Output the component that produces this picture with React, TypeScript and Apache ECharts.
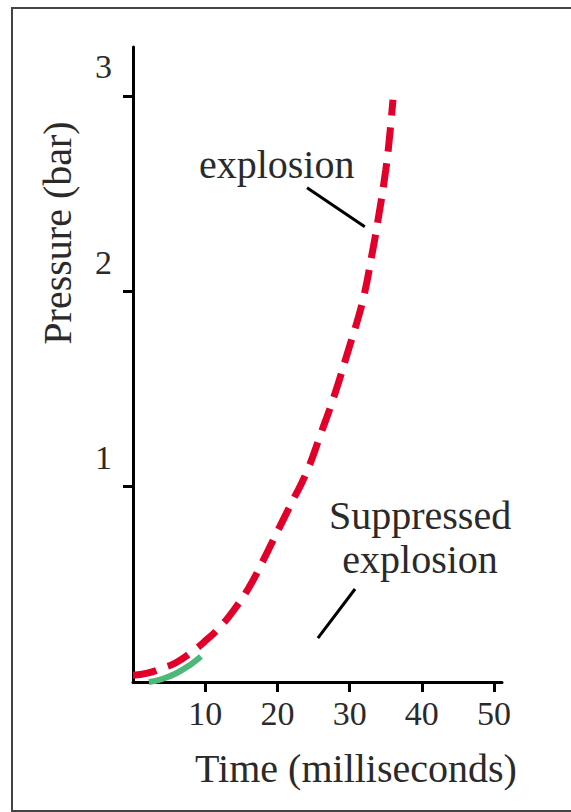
import React, { useEffect, useRef } from "react";
import * as echarts from "echarts";

// Explosion (red dashed) curve: time (ms) vs pressure (bar)
const explosionTime = [0, 2, 4, 6, 8, 10, 12, 14, 16, 18, 20, 22, 24, 26, 28, 30, 31, 32, 33, 34, 35, 35.5, 36];
const explosionPressure = [0.035, 0.045, 0.07, 0.1, 0.15, 0.21, 0.28, 0.37, 0.48, 0.62, 0.77, 0.92, 1.07, 1.27, 1.48, 1.72, 1.84, 1.98, 2.17, 2.38, 2.62, 2.78, 2.98];

// Suppressed explosion (green) curve, visible part
const suppressedTime = [2.2, 4, 6, 8, 9.4];
const suppressedPressure = [0, 0.015, 0.045, 0.09, 0.13];

const xTicks = [10, 20, 30, 40, 50];
const yTicks = [1, 2, 3];

const xTitle = "Time (milliseconds)";
const yTitle = "Pressure (bar)";
const explosionLabel = "explosion";
const suppressedLabel = "Suppressed\nexplosion";

// annotation anchors in data coordinates
const explosionLabelAt = [19.9, 2.65];
const explosionPointer = [[24.1, 2.53], [32.1, 2.33]];
const suppressedLabelAt = [39.75, 0.74];
const suppressedPointer = [[30.75, 0.476], [25.6, 0.225]];

const FONT = "'Liberation Serif', 'Times New Roman', serif";
const TEXT = "#2a2a2a";

export default function App() {
  const ref = useRef<HTMLDivElement>(null);
  useEffect(() => {
    if (!ref.current) return;
    const chart = echarts.init(ref.current, undefined, { renderer: "svg" });
    const zip = (a: number[], b: number[]) => a.map((v, i) => [v, b[i]]);
    chart.setOption({
      animation: false,
      backgroundColor: "#fff",
      grid: { left: 133, right: 69, top: 47, bottom: 130 },
      xAxis: {
        type: "value",
        min: 0,
        max: 51.1,
        interval: 10,
        axisLine: { show: true, onZero: false, lineStyle: { color: "#000", width: 3 } },
        axisTick: { show: true, customValues: xTicks, length: 10, lineStyle: { color: "#000", width: 3 } },
        axisLabel: {
          customValues: xTicks,
          margin: 14,
          fontFamily: FONT,
          fontSize: 34,
          color: TEXT,
        },
        splitLine: { show: false },
      },
      yAxis: {
        type: "value",
        min: 0,
        max: 3.25,
        interval: 1,
        axisLine: { show: true, onZero: false, lineStyle: { color: "#000", width: 3 } },
        axisTick: { show: true, customValues: yTicks, length: 10, lineStyle: { color: "#000", width: 3 } },
        axisLabel: {
          customValues: yTicks,
          margin: 21,
          verticalAlign: "bottom",
          padding: [0, 0, 12, 0],
          fontFamily: FONT,
          fontSize: 34,
          color: TEXT,
        },
        splitLine: { show: false },
      },
      series: [
        {
          type: "line",
          data: zip(suppressedTime, suppressedPressure),
          showSymbol: false,
          smooth: true,
          lineStyle: { color: "#4cb87a", width: 6 },
          z: 2,
        },
        {
          type: "line",
          data: zip(explosionTime, explosionPressure),
          showSymbol: false,
          smooth: true,
          lineStyle: { color: "#e2002a", width: 7, type: [24, 12], cap: "butt" },
          z: 3,
        },
      ],
    });

    const px = (p: number[]) => chart.convertToPixel({ gridIndex: 0 }, p) as number[];
    const e1 = px(explosionPointer[0]);
    const e2 = px(explosionPointer[1]);
    const s1 = px(suppressedPointer[0]);
    const s2 = px(suppressedPointer[1]);
    const eL = px(explosionLabelAt);
    const sL = px(suppressedLabelAt);

    chart.setOption({
      graphic: [
        {
          type: "rect",
          shape: { x: 12, y: 8, width: 580, height: 803 },
          style: { fill: "none", stroke: "#444", lineWidth: 2 },
          silent: true,
        },
        {
          type: "text",
          x: 57,
          y: 233,
          rotation: Math.PI / 2,
          style: { text: yTitle, font: `40px ${FONT}`, fill: TEXT, align: "center", verticalAlign: "middle" },
        },
        {
          type: "text",
          x: 356,
          y: 768,
          style: { text: xTitle, font: `40px ${FONT}`, fill: TEXT, align: "center", verticalAlign: "middle" },
        },
        {
          type: "text",
          x: eL[0],
          y: eL[1],
          style: { text: explosionLabel, font: `40px ${FONT}`, fill: TEXT, align: "center", verticalAlign: "middle" },
        },
        {
          type: "text",
          x: sL[0],
          y: sL[1],
          style: {
            text: suppressedLabel,
            font: `40px ${FONT}`,
            lineHeight: 44,
            fill: TEXT,
            align: "center",
            verticalAlign: "middle",
          },
        },
        {
          type: "line",
          shape: { x1: e1[0], y1: e1[1], x2: e2[0], y2: e2[1] },
          style: { stroke: "#000", lineWidth: 3 },
        },
        {
          type: "line",
          shape: { x1: s1[0], y1: s1[1], x2: s2[0], y2: s2[1] },
          style: { stroke: "#000", lineWidth: 3 },
        },
      ],
    });
    return () => chart.dispose();
  }, []);
  return (
    <div
      ref={ref}
      style={{ position: "fixed", left: 0, top: 0, width: 571, height: 812 }}
    />
  );
}
